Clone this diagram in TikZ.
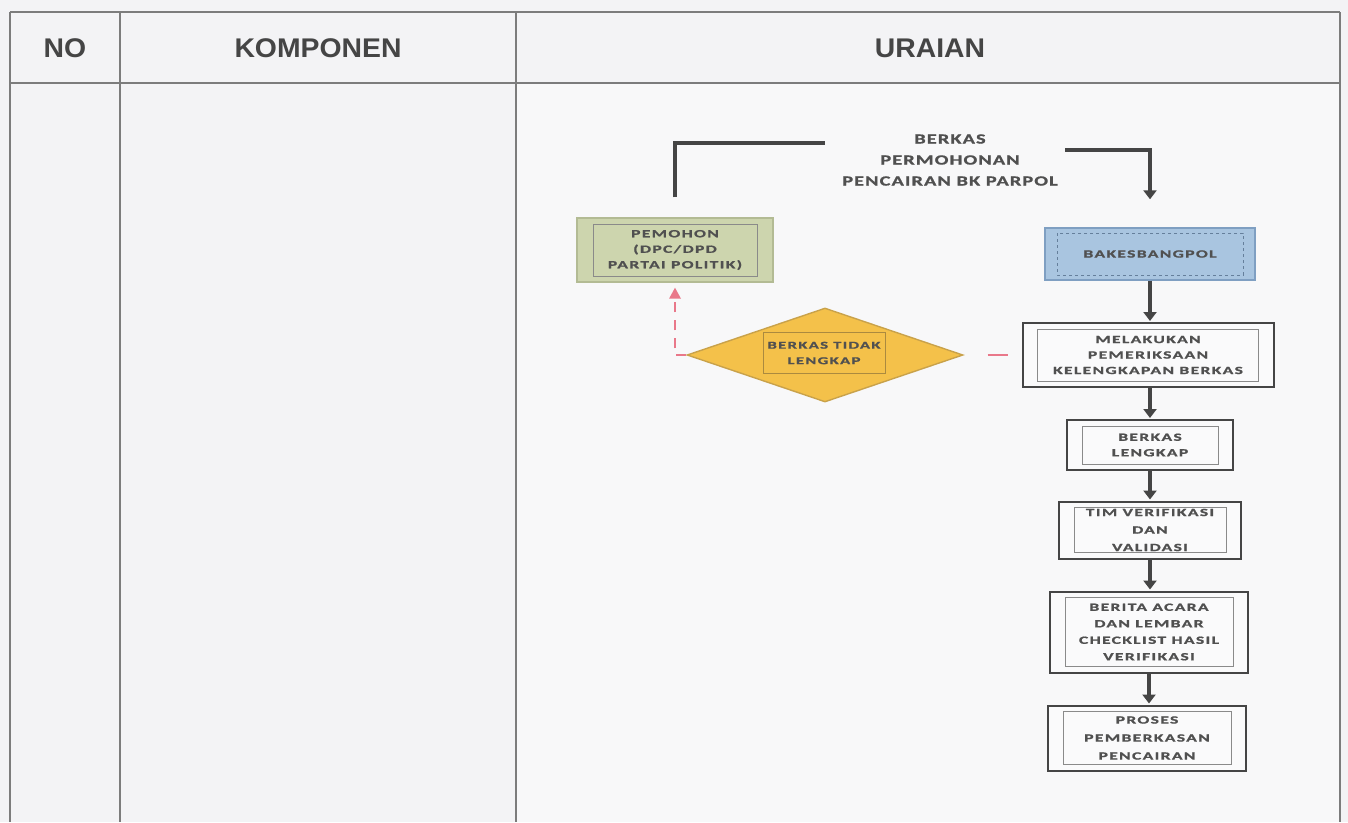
\documentclass[tikz,border=0pt]{standalone}
\usepackage{fontspec}
\usetikzlibrary{shapes.geometric,arrows.meta}
\newfontfamily\hdrfont{Liberation Sans}[FakeStretch=1.05]
\newfontfamily\flowfont{Carlito}[FakeStretch=1.6,LetterSpace=12,FakeBold=1.2]
\newfontfamily\ttlfont{Carlito}[FakeStretch=1.45,LetterSpace=8,FakeBold=1.2]
\definecolor{bg}{HTML}{F3F3F5}
\definecolor{gridc}{HTML}{7C7C7C}
\definecolor{hdrc}{HTML}{454545}
\definecolor{txtc}{HTML}{505050}
\definecolor{arrc}{HTML}{454545}
\definecolor{pemfill}{HTML}{CDD5AE}
\definecolor{pemdraw}{HTML}{B3BB94}
\definecolor{bakfill}{HTML}{A9C5E0}
\definecolor{bakdraw}{HTML}{7F9FC2}
\definecolor{diafill}{HTML}{F4C14A}
\definecolor{diadraw}{HTML}{C9A24A}
\definecolor{rdc}{HTML}{E9788A}
\definecolor{innerc}{HTML}{8A8A8A}
\tikzset{
  gridline/.style={draw=gridc,line width=1.6pt},
  hdrtext/.style={font=\hdrfont\bfseries\fontsize{27}{29}\selectfont,text=hdrc},
  flowtext/.style={font=\flowfont\bfseries\fontsize{11}{15.5}\selectfont,text=txtc,align=center,inner sep=0pt},
  procbox/.style={flowtext,draw=arrc,line width=2pt,fill=white!60!bg,
    path picture={\draw[innerc,line width=0.8pt]
      ([shift={(15pt,-6pt)}]path picture bounding box.north west) rectangle
      ([shift={(-15pt,6pt)}]path picture bounding box.south east);}},
  pembox/.style={flowtext,draw=pemdraw,line width=1.4pt,fill=pemfill,
    path picture={\draw[innerc,line width=0.8pt]
      ([shift={(16pt,-6pt)}]path picture bounding box.north west) rectangle
      ([shift={(-16pt,6pt)}]path picture bounding box.south east);}},
  bakbox/.style={flowtext,draw=bakdraw,line width=1.4pt,fill=bakfill,
    path picture={\draw[bakdraw!80!black,line width=0.8pt,dashed]
      ([shift={(12pt,-5pt)}]path picture bounding box.north west) rectangle
      ([shift={(-12pt,5pt)}]path picture bounding box.south east);}},
  diabox/.style={diamond,draw=diadraw,line width=1.4pt,fill=diafill,inner sep=0pt},
  diainner/.style={flowtext,draw=diadraw!85!black,line width=0.9pt,fill=diafill},
  conn/.style={draw=arrc,line width=3.4pt},
  arrowconn/.style={conn,-{Triangle[width=13pt,length=9pt]}},
  redline/.style={draw=rdc,line width=2.6pt}
}
\begin{document}
\begin{tikzpicture}[x=1pt,y=-1pt]
\useasboundingbox (0,0) rectangle (1348,822);
\fill[bg] (0,0) rectangle (1348,822);
\fill[white!40!bg] (517,84) rectangle (1339,822);
% table
\draw[gridline] (10,12) -- (1340,12);
\draw[gridline] (10,83) -- (1340,83);
\draw[gridline] (10,12) -- (10,822);
\draw[gridline] (120,12) -- (120,822);
\draw[gridline] (516,12) -- (516,822);
\draw[gridline] (1340,12) -- (1340,822);
\node[hdrtext] (hno) at (65,48) {NO};
\node[hdrtext] (hkomp) at (318,48) {KOMPONEN};
\node[hdrtext] (hur) at (930,48) {URAIAN};
% flow
\node[font=\ttlfont\bfseries\fontsize{14}{21}\selectfont,text=txtc,align=center,inner sep=0pt] (title) at (950,160)
  {BERKAS\\PERMOHONAN\\PENCAIRAN BK PARPOL};
\coordinate (tl) at (825,143);
\coordinate (tr) at (1065,150);
\node[pembox,minimum width=196pt,minimum height=64pt] (pem) at (675,250)
  {PEMOHON\\(DPC/DPD\\PARTAI POLITIK)};
\node[bakbox,minimum width=210pt,minimum height=52pt] (bak) at (1150,254) {BAKESBANGPOL};
\node[procbox,minimum width=251pt,minimum height=64pt] (mel) at (1148,355)
  {MELAKUKAN\\PEMERIKSAAN\\KELENGKAPAN BERKAS};
\node[diabox,minimum width=276pt,minimum height=94pt] (dia) at (825,355) {};
\node[diainner,minimum width=122pt,minimum height=41pt,font=\flowfont\bfseries\fontsize{10.5}{15.5}\selectfont] (diat) at (824,353)
  {BERKAS TIDAK\\LENGKAP};
\node[procbox,minimum width=166pt,minimum height=50pt] (berl) at (1150,445)
  {BERKAS\\LENGKAP};
\node[procbox,minimum width=182pt,minimum height=57pt,font=\flowfont\bfseries\fontsize{11}{17.5}\selectfont] (tim) at (1150,530)
  {TIM VERIFIKASI\\DAN\\VALIDASI};
\node[procbox,minimum width=198pt,minimum height=81pt,font=\flowfont\bfseries\fontsize{11}{16.5}\selectfont] (ber) at (1149,632)
  {BERITA ACARA\\DAN LEMBAR\\CHECKLIST HASIL\\VERIFIKASI};
\node[procbox,minimum width=198pt,minimum height=65pt,font=\flowfont\bfseries\fontsize{11}{18}\selectfont] (pro) at (1147,738)
  {PROSES\\PEMBERKASAN\\PENCAIRAN};
% connectors
\draw[conn,shorten <=20pt] (pem.north) |- (tl);
\draw[arrowconn,shorten >=28pt] (tr) -| (bak.north);
\draw[arrowconn,shorten >=1pt] (bak.south) -- (bak.south |- mel.north);
\draw[arrowconn,shorten >=1pt] (mel.south -| berl.north) -- (berl.north);
\draw[arrowconn,shorten >=1pt] (berl.south) -- (berl.south |- tim.north);
\draw[arrowconn,shorten >=1pt] (tim.south) -- (tim.south |- ber.north);
\draw[arrowconn,shorten >=1pt] (ber.south) -- (ber.south |- pro.north);
\draw[redline,dash pattern=on 20pt off 24pt,dash phase=20pt] (dia.east) -- (mel.west);
\draw[redline,dash pattern=on 10pt off 8pt,shorten >=14pt] (dia.west) -| (pem.south);
\draw[draw=none,fill=rdc] (pem.south) ++(0,5) -- ++(-6,11) -- ++(12,0) -- cycle;
\end{tikzpicture}
\end{document}
